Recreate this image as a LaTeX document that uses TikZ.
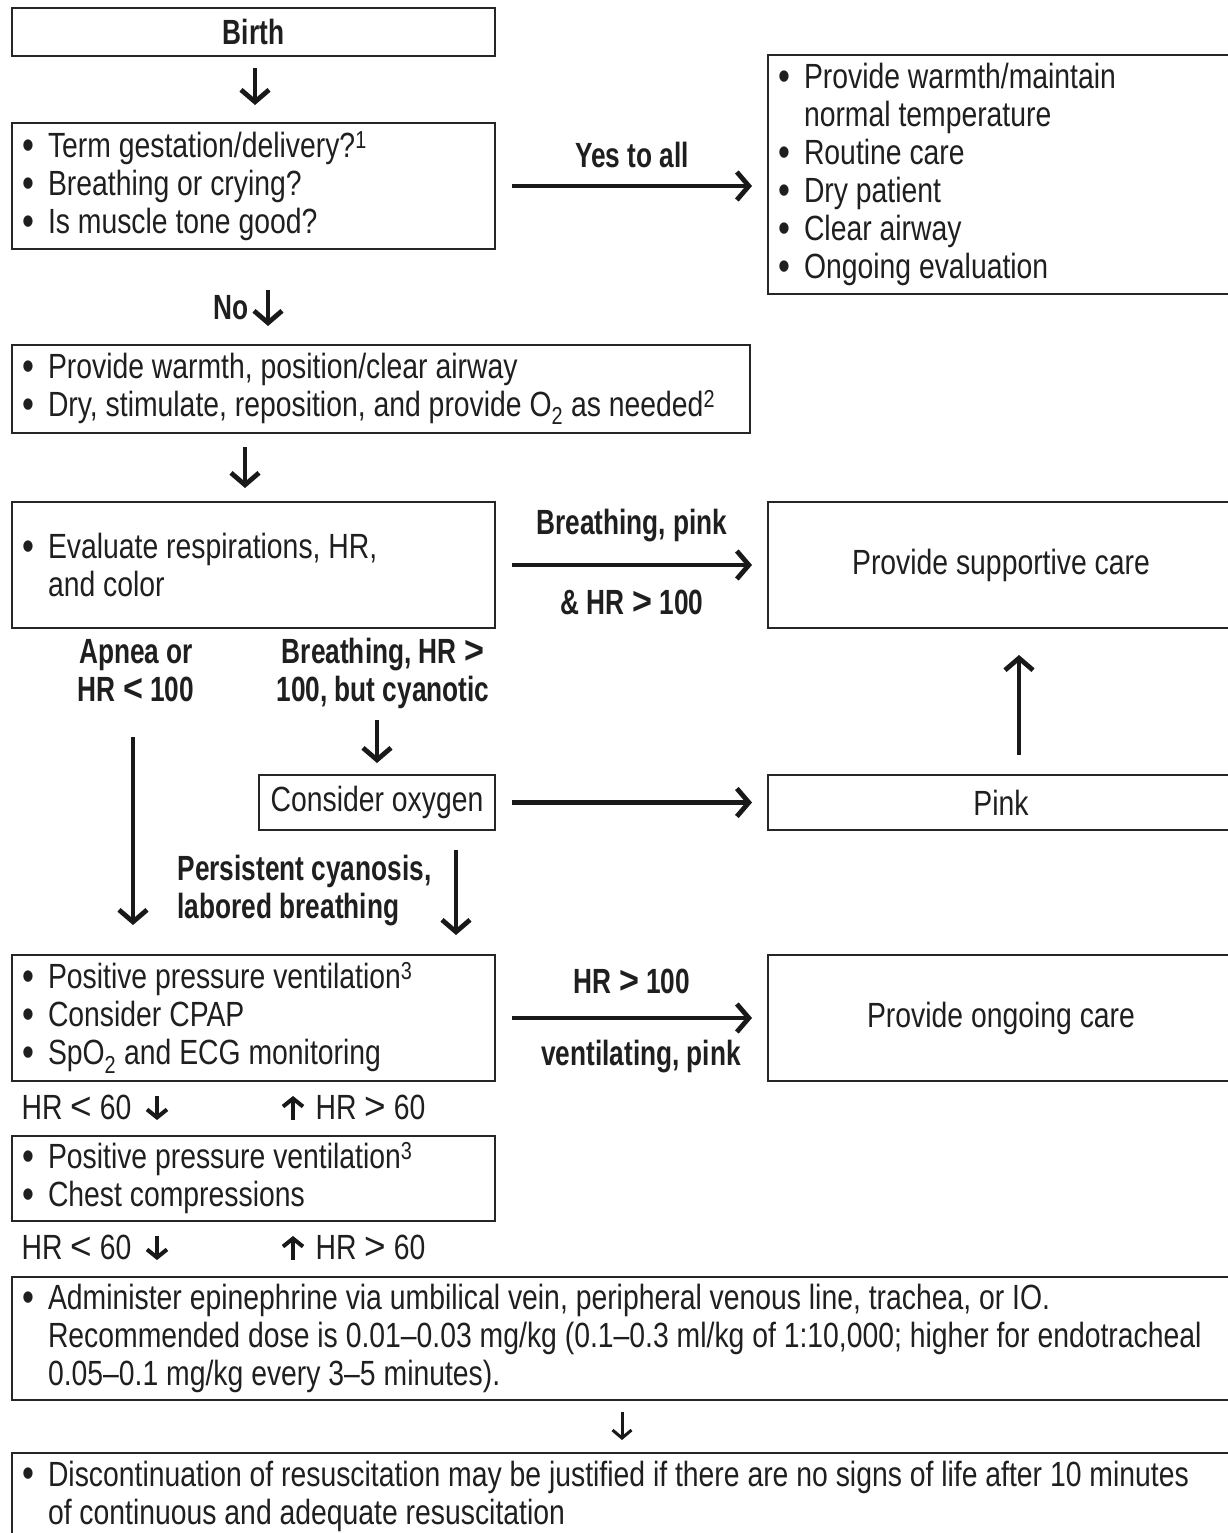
\documentclass[tikz,border=0pt]{standalone}
\usepackage{fontspec}
\usepackage{graphicx}
\setmainfont{Liberation Sans}[FakeStretch=0.81, BoldFeatures={FakeStretch=0.75}]
\usetikzlibrary{arrows.meta}
\tikzset{
  every node/.style={font=\fontsize{35}{38}\selectfont, text=black!88},
  box/.style={draw=black!85, line width=2.6pt, anchor=north west, inner xsep=10pt, inner ysep=0pt, outer sep=0pt},
  lbox/.style={box, align=flush left},
  cbox/.style={box, align=flush center},
  arr/.style={draw=black!90, line width=4.8pt, -{Straight Barb[length=12pt,width=28pt]}},
  sarr/.style={draw=black!90, line width=4pt, -{Straight Barb[length=8pt,width=20pt]}},
  tarr/.style={draw=black!90, line width=3pt, -{Straight Barb[length=8pt,width=19pt]}},
  lab/.style={font=\fontsize{35}{38}\selectfont\bfseries, align=center},
}
\newcommand\bul{\makebox[26pt][l]{\raisebox{-0.05em}{\scalebox{1.2}{\textbullet}}}}
\newcommand\ind{\hspace*{26pt}}
\newcommand\gtsym{\scalebox{1.3}[1.1]{>}}
\newcommand\ltsym{\scalebox{1.3}[1.1]{<}}
\begin{document}
\begin{tikzpicture}[x=1pt,y=-1pt]
\useasboundingbox (0,0) rectangle (1228,1533);
\fill[white] (0,0) rectangle (1228,1533);
\begin{scope}
\clip (0,0) rectangle (1228,1533);
% boxes
\node[cbox, minimum width=483pt, minimum height=48pt, text width=463pt, font=\fontsize{35}{38}\selectfont\bfseries] (birth) at (12,8) {Birth};
\node[lbox, minimum width=483pt, minimum height=126pt, text width=463pt] (q) at (12,123)
  {\bul Term gestation/delivery?\textsuperscript{1}\\\bul Breathing or crying?\\\bul Is muscle tone good?};
\node[lbox, minimum width=466pt, minimum height=239pt, text width=446pt] (right1) at (768,55)
  {\bul Provide warmth/maintain\\\ind normal temperature\\\bul Routine care\\\bul Dry patient\\\bul Clear airway\\\bul Ongoing evaluation};
\node[lbox, minimum width=738pt, minimum height=88pt, text width=718pt] (warm) at (12,345)
  {\bul Provide warmth, position/clear airway\\\bul Dry, stimulate, reposition, and provide O\textsubscript{2} as needed\textsuperscript{2}};
\node[lbox, minimum width=483pt, minimum height=126pt, text width=463pt] (eval) at (12,502)
  {\bul Evaluate respirations, HR,\\\ind and color};
\node[cbox, minimum width=466pt, minimum height=126pt, text width=446pt] (supp) at (768,502) {Provide supportive care};
\node[cbox, minimum width=236pt, minimum height=55pt, text width=216pt] (oxy) at (259,775) {Consider oxygen};
\node[cbox, minimum width=466pt, minimum height=55pt, text width=446pt] (pink) at (768,775) {Pink};
\node[lbox, minimum width=483pt, minimum height=126pt, text width=463pt] (ppv) at (12,955)
  {\bul Positive pressure ventilation\textsuperscript{3}\\\bul Consider CPAP\\\bul SpO\textsubscript{2} and ECG monitoring};
\node[cbox, minimum width=466pt, minimum height=126pt, text width=446pt] (ongo) at (768,955) {Provide ongoing care};
\node[lbox, minimum width=483pt, minimum height=85pt, text width=463pt] (ppv2) at (12,1136)
  {\bul Positive pressure ventilation\textsuperscript{3}\\\bul Chest compressions};
\node[lbox, minimum width=1222pt, minimum height=123pt, text width=1202pt] (epi) at (12,1277)
  {\bul Administer epinephrine via umbilical vein, peripheral venous line, trachea, or IO.\\\ind Recommended dose is 0.01--0.03 mg/kg (0.1--0.3 ml/kg of 1:10,000; higher for endotracheal\\\ind 0.05--0.1 mg/kg every 3--5 minutes).};
\node[lbox, minimum width=1222pt, minimum height=86pt, text width=1202pt] (final) at (12,1453)
  {\bul Discontinuation of resuscitation may be justified if there are no signs of life after 10 minutes\\\ind of continuous and adequate resuscitation};
% labels
\node[lab] (yes) at (632,155) {Yes to all};
\node[lab, anchor=east] (no) at (252,308) {No};
\node[lab] (bp) at (632,526) {Breathing, pink};
\node[lab] (hr100) at (632,602) {\& HR \gtsym{} 100};
\node[lab] (apnea) at (136,671) {Apnea or\\HR \ltsym{} 100};
\node[lab] (bhr) at (383,673) {Breathing, HR \gtsym\\100, but cyanotic};
\node[lab, align=left, anchor=west] (pers) at (174,891) {Persistent cyanosis,\\labored breathing};
\node[lab] (hrv) at (632,981) {HR \gtsym{} 100};
\node[lab] (vent) at (641,1057) {ventilating, pink};
\node[anchor=west] (lt1) at (18,1107) {HR \ltsym{} 60};
\node[anchor=west] (gt1) at (312,1107) {HR \gtsym{} 60};
\node[anchor=west] (lt2) at (18,1247) {HR \ltsym{} 60};
\node[anchor=west] (gt2) at (312,1247) {HR \gtsym{} 60};
% helper coordinates
\coordinate (cNo) at (268,0);
\coordinate (cB) at (255,0);
\coordinate (cW) at (245,0);
\coordinate (cA) at (133,0);
\coordinate (cP) at (1019,0);
\coordinate (cO) at (456,0);
\coordinate (cL) at (157,0);
\coordinate (cR) at (293,0);
\coordinate (cE) at (622,0);
% connectors
\draw[arr, shorten <=12pt, shorten >=18pt] (birth.south -| cB) -- (q.north -| cB);
\draw[arr, shorten <=17pt, shorten >=16pt] (q.east) -- (q.east -| right1.west);
\draw[arr, shorten <=41pt, shorten >=19pt] (q.south -| cNo) -- (warm.north -| cNo);
\draw[arr, shorten <=14pt, shorten >=14pt] (warm.south -| cW) -- (eval.north -| cW);
\draw[arr, shorten <=17pt, shorten >=16pt] (eval.east) -- (supp.west);
\draw[arr, shorten <=92pt, shorten >=12pt] (eval.south -| oxy.north) -- (oxy.north);
\draw[arr, shorten <=109pt, shorten >=30pt] (eval.south -| cA) -- (ppv.north -| cA);
\draw[arr, shorten <=17pt, shorten >=16pt] (oxy.east) -- (pink.west);
\draw[arr, shorten <=20pt, shorten >=27pt] (pink.north -| cP) -- (supp.south -| cP);
\draw[arr, shorten <=20pt, shorten >=20pt] (oxy.south -| cO) -- (ppv.north -| cO);
\draw[arr, shorten <=17pt, shorten >=16pt] (ppv.east) -- (ongo.west);
\draw[sarr, shorten <=15pt, shorten >=16pt] (ppv.south -| cL) -- (ppv2.north -| cL);
\draw[sarr, shorten <=16pt, shorten >=15pt] (ppv2.north -| cR) -- (ppv.south -| cR);
\draw[sarr, shorten <=15pt, shorten >=17pt] (ppv2.south -| cL) -- (epi.north -| cL);
\draw[sarr, shorten <=17pt, shorten >=15pt] (epi.north -| cR) -- (ppv2.south -| cR);
\draw[tarr, shorten <=12pt, shorten >=13pt] (epi.south -| cE) -- (final.north -| cE);
\end{scope}
\end{tikzpicture}
\end{document}
